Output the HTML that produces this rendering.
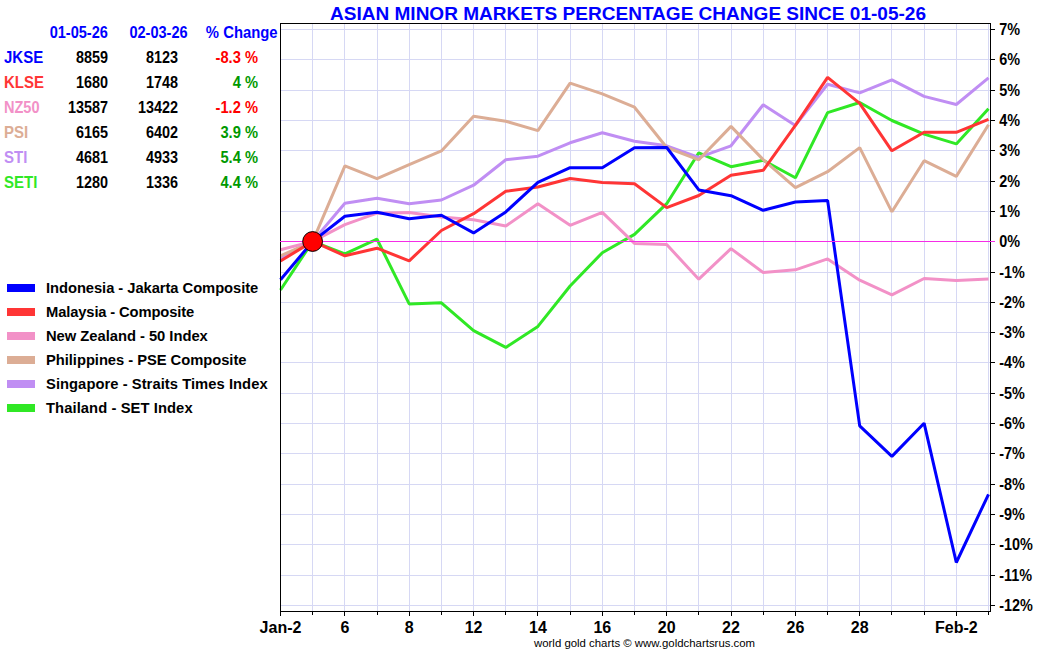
<!DOCTYPE html><html><head><meta charset="utf-8"><style>html,body{margin:0;padding:0;background:#fff;}svg{display:block;}text{font-family:"Liberation Sans",Arial,sans-serif;}</style></head><body>
<svg width="1050" height="650" viewBox="0 0 1050 650">
<rect x="0" y="0" width="1050" height="650" fill="#fff"/>
<g fill="#d6d8f4"><rect x="281" y="29" width="709" height="1"/><rect x="281" y="59" width="709" height="1"/><rect x="281" y="90" width="709" height="1"/><rect x="281" y="120" width="709" height="1"/><rect x="281" y="150" width="709" height="1"/><rect x="281" y="181" width="709" height="1"/><rect x="281" y="211" width="709" height="1"/><rect x="281" y="272" width="709" height="1"/><rect x="281" y="302" width="709" height="1"/><rect x="281" y="332" width="709" height="1"/><rect x="281" y="362" width="709" height="1"/><rect x="281" y="393" width="709" height="1"/><rect x="281" y="423" width="709" height="1"/><rect x="281" y="453" width="709" height="1"/><rect x="281" y="484" width="709" height="1"/><rect x="281" y="514" width="709" height="1"/><rect x="281" y="544" width="709" height="1"/><rect x="281" y="575" width="709" height="1"/><rect x="281" y="605" width="709" height="1"/><rect x="312" y="24" width="1" height="587"/><rect x="344" y="24" width="1" height="587"/><rect x="377" y="24" width="1" height="587"/><rect x="409" y="24" width="1" height="587"/><rect x="441" y="24" width="1" height="587"/><rect x="473" y="24" width="1" height="587"/><rect x="505" y="24" width="1" height="587"/><rect x="537" y="24" width="1" height="587"/><rect x="570" y="24" width="1" height="587"/><rect x="602" y="24" width="1" height="587"/><rect x="634" y="24" width="1" height="587"/><rect x="666" y="24" width="1" height="587"/><rect x="698" y="24" width="1" height="587"/><rect x="731" y="24" width="1" height="587"/><rect x="763" y="24" width="1" height="587"/><rect x="795" y="24" width="1" height="587"/><rect x="827" y="24" width="1" height="587"/><rect x="859" y="24" width="1" height="587"/><rect x="891" y="24" width="1" height="587"/><rect x="924" y="24" width="1" height="587"/><rect x="956" y="24" width="1" height="587"/><rect x="988" y="24" width="1" height="587"/></g>
<polyline points="280.5,290.0 312.7,241.4 344.9,253.8 377.0,239.2 409.2,303.9 441.4,302.8 473.6,330.6 505.8,347.4 537.9,326.4 570.1,286.0 602.3,252.7 634.5,234.4 666.7,203.7 698.8,152.8 731.0,166.7 763.2,160.2 795.4,177.8 827.6,112.6 859.7,102.5 891.9,120.5 924.1,134.1 956.3,143.9 988.5,108.7" fill="none" stroke="#30e825" stroke-width="3" stroke-linejoin="bevel"/>
<polyline points="280.5,258.7 312.7,241.4 344.9,203.2 377.0,198.2 409.2,203.8 441.4,200.0 473.6,185.2 505.8,159.8 537.9,156.2 570.1,142.8 602.3,132.7 634.5,141.3 666.7,145.8 698.8,157.4 731.0,145.8 763.2,104.8 795.4,125.4 827.6,84.3 859.7,92.9 891.9,79.9 924.1,96.4 956.3,104.5 988.5,77.9" fill="none" stroke="#c08ef3" stroke-width="3" stroke-linejoin="bevel"/>
<polyline points="280.5,255.9 312.7,241.4 344.9,165.8 377.0,178.6 409.2,164.6 441.4,150.9 473.6,116.2 505.8,121.2 537.9,130.6 570.1,83.1 602.3,93.9 634.5,107.2 666.7,147.5 698.8,159.8 731.0,126.4 763.2,159.6 795.4,187.7 827.6,171.7 859.7,147.6 891.9,211.8 924.1,160.7 956.3,176.4 988.5,124.7" fill="none" stroke="#dcad95" stroke-width="3" stroke-linejoin="bevel"/>
<polyline points="280.5,249.7 312.7,241.4 344.9,224.6 377.0,213.2 409.2,212.6 441.4,217.1 473.6,219.8 505.8,226.0 537.9,203.8 570.1,225.3 602.3,212.4 634.5,243.4 666.7,244.6 698.8,279.2 731.0,248.6 763.2,272.6 795.4,269.8 827.6,258.9 859.7,280.2 891.9,294.9 924.1,278.5 956.3,280.5 988.5,278.9" fill="none" stroke="#f291c7" stroke-width="3" stroke-linejoin="bevel"/>
<polyline points="280.5,261.0 312.7,241.4 344.9,255.8 377.0,248.2 409.2,260.8 441.4,230.5 473.6,213.7 505.8,191.2 537.9,187.0 570.1,178.5 602.3,182.6 634.5,183.7 666.7,207.6 698.8,195.5 731.0,175.3 763.2,170.3 795.4,125.4 827.6,77.4 859.7,103.3 891.9,150.8 924.1,132.3 956.3,132.3 988.5,119.3" fill="none" stroke="#ff3535" stroke-width="3" stroke-linejoin="bevel"/>
<polyline points="280.5,279.8 312.7,241.4 344.9,216.2 377.0,212.2 409.2,218.8 441.4,215.3 473.6,232.9 505.8,211.9 537.9,182.4 570.1,167.7 602.3,167.7 634.5,147.7 666.7,147.5 698.8,189.9 731.0,195.7 763.2,210.3 795.4,202.0 827.6,200.4 859.7,425.9 891.9,456.4 924.1,423.2 956.3,562.5 988.5,494.3" fill="none" stroke="#0000ff" stroke-width="3" stroke-linejoin="bevel"/>
<g fill="#000"><rect x="280" y="23" width="711" height="1"/><rect x="280" y="611" width="711" height="1"/><rect x="280" y="23" width="1" height="589"/><rect x="990" y="23" width="1" height="589"/></g>
<rect x="280" y="241" width="715" height="1" fill="#f52de6"/>
<g fill="#000"><rect x="991" y="29" width="4" height="1"/><rect x="991" y="59" width="4" height="1"/><rect x="991" y="90" width="4" height="1"/><rect x="991" y="120" width="4" height="1"/><rect x="991" y="150" width="4" height="1"/><rect x="991" y="181" width="4" height="1"/><rect x="991" y="211" width="4" height="1"/><rect x="991" y="272" width="4" height="1"/><rect x="991" y="302" width="4" height="1"/><rect x="991" y="332" width="4" height="1"/><rect x="991" y="362" width="4" height="1"/><rect x="991" y="393" width="4" height="1"/><rect x="991" y="423" width="4" height="1"/><rect x="991" y="453" width="4" height="1"/><rect x="991" y="484" width="4" height="1"/><rect x="991" y="514" width="4" height="1"/><rect x="991" y="544" width="4" height="1"/><rect x="991" y="575" width="4" height="1"/><rect x="991" y="605" width="4" height="1"/><rect x="280" y="612" width="1" height="4"/><rect x="312" y="612" width="1" height="3"/><rect x="344" y="612" width="1" height="4"/><rect x="377" y="612" width="1" height="3"/><rect x="409" y="612" width="1" height="4"/><rect x="441" y="612" width="1" height="3"/><rect x="473" y="612" width="1" height="4"/><rect x="505" y="612" width="1" height="3"/><rect x="537" y="612" width="1" height="4"/><rect x="570" y="612" width="1" height="3"/><rect x="602" y="612" width="1" height="4"/><rect x="634" y="612" width="1" height="3"/><rect x="666" y="612" width="1" height="4"/><rect x="698" y="612" width="1" height="3"/><rect x="731" y="612" width="1" height="4"/><rect x="763" y="612" width="1" height="3"/><rect x="795" y="612" width="1" height="4"/><rect x="827" y="612" width="1" height="3"/><rect x="859" y="612" width="1" height="4"/><rect x="891" y="612" width="1" height="3"/><rect x="924" y="612" width="1" height="3"/><rect x="956" y="612" width="1" height="4"/><rect x="988" y="612" width="1" height="3"/></g>
<circle cx="312.6" cy="241.5" r="9.9" fill="#ff0000" stroke="#000" stroke-width="1"/>
<g font-size="14" font-weight="bold" fill="#000"><text transform="matrix(1.03 0 0 1.12 999.3 35)">7%</text><text transform="matrix(1.03 0 0 1.12 999.3 65)">6%</text><text transform="matrix(1.03 0 0 1.12 999.3 96)">5%</text><text transform="matrix(1.03 0 0 1.12 999.3 126)">4%</text><text transform="matrix(1.03 0 0 1.12 999.3 156)">3%</text><text transform="matrix(1.03 0 0 1.12 999.3 187)">2%</text><text transform="matrix(1.03 0 0 1.12 999.3 217)">1%</text><text transform="matrix(1.03 0 0 1.12 999.3 247)">0%</text><text transform="matrix(1.03 0 0 1.12 999.3 278)">-1%</text><text transform="matrix(1.03 0 0 1.12 999.3 308)">-2%</text><text transform="matrix(1.03 0 0 1.12 999.3 338)">-3%</text><text transform="matrix(1.03 0 0 1.12 999.3 368)">-4%</text><text transform="matrix(1.03 0 0 1.12 999.3 399)">-5%</text><text transform="matrix(1.03 0 0 1.12 999.3 429)">-6%</text><text transform="matrix(1.03 0 0 1.12 999.3 459)">-7%</text><text transform="matrix(1.03 0 0 1.12 999.3 490)">-8%</text><text transform="matrix(1.03 0 0 1.12 999.3 520)">-9%</text><text transform="matrix(1.03 0 0 1.12 999.3 550)">-10%</text><text transform="matrix(1.03 0 0 1.12 999.3 581)">-11%</text><text transform="matrix(1.03 0 0 1.12 999.3 611)">-12%</text></g>
<g font-size="16" font-weight="bold" fill="#000" text-anchor="middle"><text x="280.5" y="633">Jan-2</text><text x="344.9" y="633">6</text><text x="409.2" y="633">8</text><text x="473.6" y="633">12</text><text x="537.9" y="633">14</text><text x="602.3" y="633">16</text><text x="666.7" y="633">20</text><text x="731.0" y="633">22</text><text x="795.4" y="633">26</text><text x="859.7" y="633">28</text><text x="956.3" y="633">Feb-2</text></g>
<text x="534" y="647" font-size="11.4" fill="#000">world gold charts © www.goldchartsrus.com</text>
<text x="628" y="20" font-size="19" font-weight="bold" fill="#0000ff" text-anchor="middle" textLength="596" lengthAdjust="spacingAndGlyphs">ASIAN MINOR MARKETS PERCENTAGE CHANGE SINCE 01-05-26</text>
<g font-size="15" font-weight="bold"><text transform="matrix(0.97 0 0 1.07 107.8 38)" fill="#0000ff" text-anchor="end">01-05-26</text><text transform="matrix(0.97 0 0 1.07 187.6 38)" fill="#0000ff" text-anchor="end">02-03-26</text><text transform="matrix(0.99 0 0 1.07 277.6 38)" fill="#0000ff" text-anchor="end">% Change</text><text transform="matrix(1.0 0 0 1.07 4 63)" fill="#0000ff">JKSE</text><text transform="matrix(0.96 0 0 1.07 108 63)" fill="#000" text-anchor="end">8859</text><text transform="matrix(0.96 0 0 1.07 178 63)" fill="#000" text-anchor="end">8123</text><text transform="matrix(0.98 0 0 1.07 258 63)" fill="#ff0000" text-anchor="end">-8.3 %</text><text transform="matrix(1.0 0 0 1.07 4 88)" fill="#ff3535">KLSE</text><text transform="matrix(0.96 0 0 1.07 108 88)" fill="#000" text-anchor="end">1680</text><text transform="matrix(0.96 0 0 1.07 178 88)" fill="#000" text-anchor="end">1748</text><text transform="matrix(0.98 0 0 1.07 258 88)" fill="#009900" text-anchor="end">4 %</text><text transform="matrix(0.97 0 0 1.07 4 113)" fill="#f291c7">NZ50</text><text transform="matrix(0.96 0 0 1.07 108 113)" fill="#000" text-anchor="end">13587</text><text transform="matrix(0.96 0 0 1.07 178 113)" fill="#000" text-anchor="end">13422</text><text transform="matrix(0.98 0 0 1.07 258 113)" fill="#ff0000" text-anchor="end">-1.2 %</text><text transform="matrix(1.0 0 0 1.07 4 138)" fill="#dcad95">PSI</text><text transform="matrix(0.96 0 0 1.07 108 138)" fill="#000" text-anchor="end">6165</text><text transform="matrix(0.96 0 0 1.07 178 138)" fill="#000" text-anchor="end">6402</text><text transform="matrix(0.98 0 0 1.07 258 138)" fill="#009900" text-anchor="end">3.9 %</text><text transform="matrix(1.0 0 0 1.07 4 163)" fill="#c08ef3">STI</text><text transform="matrix(0.96 0 0 1.07 108 163)" fill="#000" text-anchor="end">4681</text><text transform="matrix(0.96 0 0 1.07 178 163)" fill="#000" text-anchor="end">4933</text><text transform="matrix(0.98 0 0 1.07 258 163)" fill="#009900" text-anchor="end">5.4 %</text><text transform="matrix(1.0 0 0 1.07 4 188)" fill="#30e825">SETI</text><text transform="matrix(0.96 0 0 1.07 108 188)" fill="#000" text-anchor="end">1280</text><text transform="matrix(0.96 0 0 1.07 178 188)" fill="#000" text-anchor="end">1336</text><text transform="matrix(0.98 0 0 1.07 258 188)" fill="#009900" text-anchor="end">4.4 %</text></g>
<g font-size="14.75" font-weight="bold"><rect x="7" y="284" width="28" height="8" fill="#0000ff"/><text x="46" y="293" fill="#000" textLength="212.3">Indonesia - Jakarta Composite</text><rect x="7" y="308" width="28" height="8" fill="#ff3535"/><text x="46" y="317" fill="#000" textLength="148.2">Malaysia - Composite</text><rect x="7" y="332" width="28" height="8" fill="#f291c7"/><text x="46" y="341" fill="#000" textLength="161.8">New Zealand - 50 Index</text><rect x="7" y="356" width="28" height="8" fill="#dcad95"/><text x="46" y="365" fill="#000" textLength="200.5">Philippines - PSE Composite</text><rect x="7" y="380" width="28" height="8" fill="#c08ef3"/><text x="46" y="389" fill="#000" textLength="221.6">Singapore - Straits Times Index</text><rect x="7" y="404" width="28" height="8" fill="#30e825"/><text x="46" y="413" fill="#000" textLength="146.6">Thailand - SET Index</text></g>
</svg></body></html>
